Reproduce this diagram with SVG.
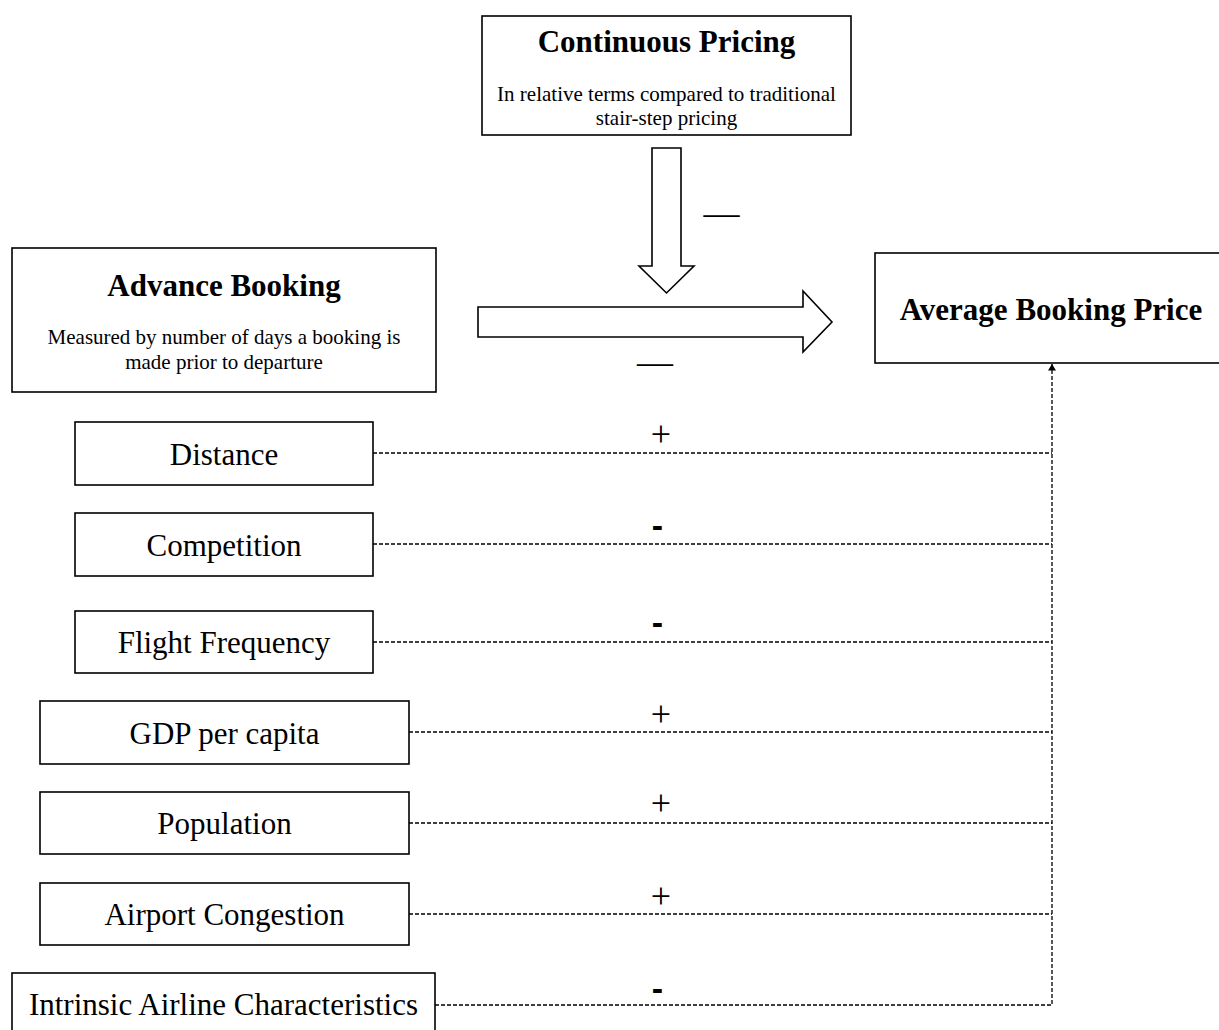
<svg xmlns="http://www.w3.org/2000/svg" width="1219" height="1030" viewBox="0 0 1219 1030">
<defs>
<style>
.box{fill:#fff;stroke:#000;stroke-width:1.6}
.lbl{font-family:"Liberation Serif","Times New Roman",serif;font-size:31px;fill:#000;text-anchor:middle}
.ttl{font-family:"Liberation Serif","Times New Roman",serif;font-size:31px;font-weight:bold;fill:#000;text-anchor:middle}
.sub{font-family:"Liberation Serif","Times New Roman",serif;font-size:21px;fill:#000;text-anchor:middle}
.sign{font-family:"Liberation Serif","Times New Roman",serif;font-size:36px;fill:#000;text-anchor:middle}
.neg{font-family:"Liberation Sans",Arial,sans-serif;font-size:34px;font-weight:bold;fill:#000;text-anchor:middle}
.dash{fill:none;stroke:#000;stroke-width:1.3;stroke-dasharray:4 2}
.big{fill:#fff;stroke:#000;stroke-width:1.6}
</style>
<marker id="ah2" viewBox="0 0 8 10" refX="8" refY="5" markerWidth="8" markerHeight="8" orient="auto" markerUnits="userSpaceOnUse">
<path d="M0,0 L8,5 L0,10 z" fill="#000"/>
</marker>
</defs>
<rect width="1219" height="1030" fill="#fff"/>

<g id="continuous-pricing">
<rect class="box" x="482" y="16" width="369" height="119"/>
<text class="ttl" x="666.5" y="52">Continuous Pricing</text>
<text class="sub" x="666.5" y="101">In relative terms compared to traditional</text>
<text class="sub" x="666.5" y="125">stair-step pricing</text>
</g>

<g id="advance-booking">
<rect class="box" x="12" y="248" width="424" height="144"/>
<text class="ttl" x="224" y="296">Advance Booking</text>
<text class="sub" x="224" y="344">Measured by number of days a booking is</text>
<text class="sub" x="224" y="369">made prior to departure</text>
</g>

<g id="average-booking-price">
<rect class="box" x="875" y="253" width="360" height="110"/>
<text class="ttl" x="1051" y="320">Average Booking Price</text>
</g>

<g id="distance">
<rect class="box" x="75" y="422" width="298" height="63"/>
<text class="lbl" x="224" y="465">Distance</text>
</g>
<g id="competition">
<rect class="box" x="75" y="513" width="298" height="63"/>
<text class="lbl" x="224" y="556">Competition</text>
</g>
<g id="flight-frequency">
<rect class="box" x="75" y="611" width="298" height="62"/>
<text class="lbl" x="224" y="653">Flight Frequency</text>
</g>
<g id="gdp-per-capita">
<rect class="box" x="40" y="701" width="369" height="63"/>
<text class="lbl" x="224.5" y="744">GDP per capita</text>
</g>
<g id="population">
<rect class="box" x="40" y="792" width="369" height="62"/>
<text class="lbl" x="224.5" y="834">Population</text>
</g>
<g id="airport-congestion">
<rect class="box" x="40" y="883" width="369" height="62"/>
<text class="lbl" x="224.5" y="925">Airport Congestion</text>
</g>
<g id="intrinsic-airline-characteristics">
<rect class="box" x="12" y="973" width="423" height="66"/>
<text class="lbl" x="223.5" y="1015">Intrinsic Airline Characteristics</text>
</g>

<g id="connectors">
<path class="big" d="M652,148 L681,148 L681,266 L694,266 L666.5,293 L639,266 L652,266 Z"/>
<path class="big" d="M478,307 L803,307 L803,291 L832,322 L803,352 L803,337 L478,337 Z"/>
<text class="sign" x="721.5" y="225">—</text>
<text class="sign" x="655" y="374">—</text>

<path class="dash" d="M373,453 H1052"/>
<path class="dash" d="M373,544 H1052"/>
<path class="dash" d="M373,642 H1052"/>
<path class="dash" d="M409,732 H1052"/>
<path class="dash" d="M409,823 H1052"/>
<path class="dash" d="M409,914 H1052"/>
<path class="dash" d="M435,1005 H1052 V364" stroke-width="1.8" marker-end="url(#ah2)"/>

<text class="sign" x="661" y="446">+</text>
<text class="neg" x="657.5" y="537">-</text>
<text class="neg" x="657.5" y="634">-</text>
<text class="sign" x="661" y="726">+</text>
<text class="sign" x="661" y="815">+</text>
<text class="sign" x="661" y="908">+</text>
<text class="neg" x="657.5" y="1000">-</text>
</g>
</svg>
